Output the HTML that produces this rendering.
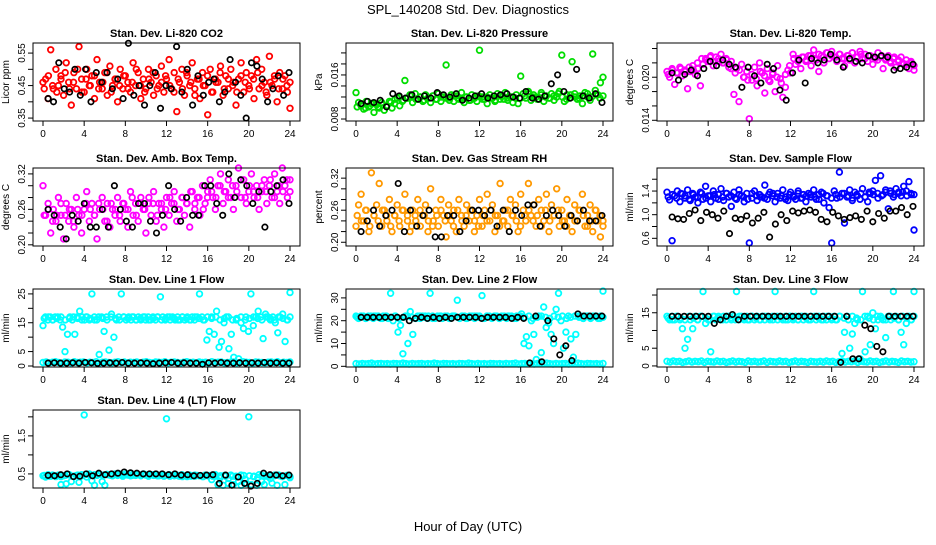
<!DOCTYPE html>
<html><head><meta charset="utf-8"><style>
body{margin:0;background:#fff}
svg text{font-family:"Liberation Sans",Arial,sans-serif}
</style></head><body>
<svg id="chart" width="936" height="540" viewBox="0 0 936 540" xmlns="http://www.w3.org/2000/svg">
<rect width="936" height="540" fill="#fff"/>
<text x="468" y="14" text-anchor="middle" font-size="13">SPL_140208  Std. Dev. Diagnostics</text>
<text x="468" y="531" text-anchor="middle" font-size="13">Hour of Day (UTC)</text>
</svg>
<script>
const xTicks=[0,4,8,12,16,20,24];
const co2=[0.46,0.47,0.41,0.56,0.44,0.50,0.45,0.48,0.42,0.52,0.46,0.39,0.49,0.44,0.57,0.47,0.43,0.50,0.45,0.48,0.41,0.53,0.46,0.44,0.49,0.42,0.51,0.45,0.47,0.40,0.50,0.44,0.48,0.46,0.43,0.52,0.45,0.49,0.41,0.47,0.44,0.50,0.46,0.42,0.48,0.45,0.51,0.43,0.47,0.53,0.44,0.49,0.37,0.46,0.50,0.42,0.48,0.45,0.52,0.44,0.47,0.41,0.49,0.45,0.36,0.50,0.43,0.47,0.46,0.51,0.42,0.48,0.44,0.50,0.46,0.39,0.47,0.52,0.43,0.49,0.45,0.48,0.41,0.53,0.44,0.50,0.46,0.42,0.54,0.45,0.47,0.40,0.49,0.44,0.48,0.43,0.38];
const co2b=[0.44,0.48,0.45,0.43,0.47,0.49,0.44,0.46,0.50,0.43,0.47,0.45,0.48,0.44,0.46,0.49,0.43,0.47,0.45,0.48,0.44,0.46,0.50,0.45,0.43,0.47,0.49,0.44,0.46,0.48,0.45,0.43,0.47,0.44,0.49,0.46,0.42,0.47,0.45,0.48,0.43,0.46,0.49,0.44,0.47,0.45,0.43,0.48,0.46,0.44,0.47,0.49,0.45,0.43,0.46,0.48,0.44,0.47,0.45,0.46];
const co2K=[0.41,0.40,0.52,0.44,0.43,0.50,0.42,0.50,0.40,0.49,0.46,0.49,0.44,0.47,0.41,0.58,0.42,0.45,0.39,0.45,0.49,0.38,0.45,0.44,0.57,0.43,0.50,0.39,0.48,0.42,0.46,0.47,0.40,0.43,0.53,0.46,0.42,0.35,0.52,0.51,0.47,0.40,0.44,0.48,0.42,0.49];
const pres=[0.0128,0.0110,0.0104,0.0098,0.0112,0.0102,0.0108,0.0092,0.0106,0.0100,0.0110,0.0096,0.0104,0.0112,0.0100,0.0108,0.0118,0.0104,0.0112,0.0150,0.0118,0.0124,0.0110,0.0126,0.0116,0.0120,0.0112,0.0124,0.0118,0.0110,0.0122,0.0116,0.0126,0.0112,0.0120,0.0178,0.0118,0.0124,0.0112,0.0122,0.0116,0.0128,0.0110,0.0120,0.0114,0.0124,0.0118,0.0112,0.0205,0.0120,0.0116,0.0108,0.0124,0.0118,0.0112,0.0126,0.0116,0.0122,0.0128,0.0114,0.0120,0.0110,0.0118,0.0108,0.0158,0.0126,0.0118,0.0130,0.0114,0.0124,0.0120,0.0116,0.0128,0.0112,0.0122,0.0118,0.0126,0.0114,0.0120,0.0130,0.0196,0.0112,0.0124,0.0118,0.0184,0.0126,0.0116,0.0122,0.0108,0.0128,0.0120,0.0114,0.0198,0.0132,0.0124,0.0146,0.0156];
const presb=[0.0102,0.0106,0.0100,0.0104,0.0108,0.0102,0.0106,0.0104,0.0110,0.0116,0.0120,0.0114,0.0118,0.0122,0.0116,0.0120,0.0114,0.0118,0.0122,0.0116,0.0120,0.0118,0.0114,0.0122,0.0118,0.0116,0.0120,0.0114,0.0118,0.0122,0.0116,0.0120,0.0118,0.0114,0.0122,0.0116,0.0118,0.0120,0.0124,0.0118,0.0122,0.0126,0.0120,0.0116,0.0124,0.0120,0.0118,0.0122,0.0126,0.0120,0.0116,0.0124,0.0120,0.0118,0.0122,0.0126,0.0120,0.0124,0.0118,0.0122];
const presK=[0.0108,0.0112,0.0110,0.0114,0.0102,0.0126,0.0122,0.0118,0.0124,0.0116,0.0122,0.0118,0.0128,0.0124,0.0120,0.0126,0.0114,0.0118,0.0122,0.0126,0.0118,0.0122,0.0124,0.0126,0.0120,0.0118,0.0130,0.0118,0.0116,0.0122,0.0144,0.0160,0.0130,0.0118,0.0170,0.0122,0.0118,0.0126,0.0110];
const ltemp=[0.0208,0.0200,0.0212,0.0190,0.0206,0.0214,0.0202,0.0210,0.0184,0.0208,0.0216,0.0204,0.0212,0.0188,0.0218,0.0226,0.0222,0.0230,0.0216,0.0228,0.0222,0.0232,0.0220,0.0226,0.0214,0.0222,0.0176,0.0212,0.0166,0.0218,0.0200,0.0208,0.0142,0.0196,0.0214,0.0188,0.0220,0.0206,0.0178,0.0212,0.0194,0.0204,0.0180,0.0216,0.0198,0.0172,0.0186,0.0210,0.0206,0.0232,0.0218,0.0226,0.0212,0.0228,0.0222,0.0230,0.0216,0.0238,0.0224,0.0208,0.0230,0.0220,0.0234,0.0226,0.0236,0.0228,0.0222,0.0232,0.0226,0.0216,0.0230,0.0224,0.0234,0.0220,0.0228,0.0236,0.0226,0.0232,0.0222,0.0230,0.0218,0.0226,0.0234,0.0228,0.0212,0.0224,0.0230,0.0220,0.0226,0.0214,0.0222,0.0228,0.0218,0.0224,0.0212,0.0220,0.0210];
const ltempb=[0.0204,0.0210,0.0206,0.0212,0.0208,0.0214,0.0210,0.0220,0.0226,0.0224,0.0228,0.0222,0.0226,0.0220,0.0224,0.0212,0.0206,0.0210,0.0200,0.0196,0.0204,0.0198,0.0208,0.0202,0.0196,0.0206,0.0200,0.0192,0.0204,0.0216,0.0226,0.0222,0.0228,0.0224,0.0230,0.0226,0.0232,0.0228,0.0234,0.0230,0.0228,0.0232,0.0226,0.0230,0.0234,0.0228,0.0232,0.0226,0.0230,0.0228,0.0224,0.0230,0.0226,0.0222,0.0228,0.0224,0.0220,0.0218,0.0222,0.0216];
const ltempK=[0.0206,0.0196,0.0204,0.0210,0.0202,0.0212,0.0222,0.0216,0.0224,0.0218,0.0214,0.0186,0.0214,0.0202,0.0192,0.0218,0.0212,0.0182,0.0168,0.0206,0.0224,0.0192,0.0226,0.0220,0.0224,0.0232,0.0224,0.0214,0.0226,0.0222,0.0220,0.0230,0.0228,0.0230,0.0228,0.0210,0.0212,0.0214,0.0218];
const amb=[0.30,0.25,0.27,0.22,0.26,0.24,0.28,0.25,0.21,0.27,0.24,0.26,0.23,0.28,0.25,0.22,0.26,0.29,0.24,0.27,0.25,0.21,0.26,0.28,0.24,0.27,0.23,0.26,0.25,0.28,0.24,0.27,0.26,0.23,0.29,0.25,0.27,0.24,0.28,0.26,0.22,0.27,0.25,0.29,0.24,0.27,0.26,0.23,0.28,0.25,0.27,0.29,0.24,0.26,0.28,0.25,0.27,0.23,0.29,0.26,0.28,0.25,0.30,0.27,0.29,0.31,0.28,0.26,0.30,0.32,0.27,0.29,0.31,0.28,0.26,0.30,0.33,0.28,0.31,0.27,0.29,0.32,0.28,0.30,0.26,0.29,0.31,0.27,0.30,0.28,0.32,0.29,0.27,0.33,0.30,0.28,0.31];
const ambb=[0.25,0.26,0.24,0.25,0.27,0.25,0.26,0.24,0.26,0.25,0.27,0.26,0.25,0.27,0.26,0.24,0.27,0.26,0.25,0.27,0.26,0.28,0.25,0.27,0.26,0.28,0.27,0.25,0.27,0.26,0.28,0.27,0.26,0.28,0.27,0.29,0.27,0.28,0.26,0.28,0.29,0.28,0.30,0.29,0.28,0.30,0.29,0.31,0.28,0.30,0.29,0.28,0.30,0.29,0.31,0.28,0.30,0.29,0.31,0.29];
const ambK=[0.26,0.25,0.23,0.21,0.25,0.24,0.27,0.23,0.23,0.26,0.23,0.30,0.26,0.24,0.23,0.27,0.27,0.24,0.22,0.25,0.30,0.26,0.24,0.28,0.25,0.25,0.30,0.30,0.27,0.25,0.32,0.28,0.31,0.30,0.27,0.29,0.23,0.29,0.30,0.31,0.27];
const rh=[0.23,0.27,0.29,0.24,0.26,0.22,0.33,0.25,0.27,0.31,0.23,0.26,0.24,0.28,0.22,0.25,0.27,0.23,0.26,0.29,0.24,0.22,0.26,0.25,0.28,0.23,0.25,0.27,0.22,0.30,0.24,0.26,0.23,0.28,0.25,0.21,0.27,0.24,0.26,0.22,0.28,0.25,0.23,0.27,0.24,0.26,0.22,0.25,0.28,0.23,0.26,0.29,0.24,0.27,0.22,0.25,0.31,0.24,0.26,0.23,0.28,0.25,0.27,0.22,0.29,0.26,0.24,0.31,0.25,0.27,0.23,0.28,0.26,0.24,0.29,0.22,0.27,0.25,0.30,0.23,0.26,0.24,0.28,0.25,0.22,0.27,0.24,0.26,0.29,0.23,0.25,0.27,0.22,0.26,0.24,0.21,0.23];
const rhb=[0.25,0.24,0.26,0.23,0.25,0.24,0.26,0.25,0.23,0.25,0.24,0.26,0.25,0.23,0.24,0.26,0.25,0.24,0.23,0.25,0.26,0.24,0.25,0.23,0.26,0.24,0.25,0.26,0.24,0.23,0.25,0.24,0.26,0.25,0.23,0.24,0.26,0.25,0.24,0.23,0.25,0.26,0.24,0.25,0.23,0.26,0.24,0.25,0.26,0.24,0.23,0.25,0.24,0.26,0.25,0.23,0.24,0.26,0.25,0.24];
const rhK=[0.22,0.24,0.26,0.23,0.25,0.26,0.31,0.22,0.26,0.23,0.25,0.26,0.21,0.21,0.25,0.25,0.22,0.24,0.26,0.26,0.25,0.26,0.23,0.26,0.22,0.26,0.25,0.27,0.27,0.23,0.25,0.26,0.25,0.23,0.25,0.24,0.26,0.24,0.24,0.25];
const sflow=[1.38,1.25,0.56,1.32,1.40,1.22,1.35,1.28,1.42,1.24,1.36,1.30,1.20,1.38,1.26,1.48,1.32,1.22,1.40,1.28,1.34,1.44,1.24,1.36,1.30,1.14,1.38,1.26,1.42,1.32,1.22,1.36,0.52,1.28,1.40,1.24,1.34,1.30,1.50,1.26,1.38,1.32,1.22,1.36,1.28,1.42,1.30,1.24,1.38,1.32,1.26,1.40,1.28,1.34,1.22,1.36,1.30,1.42,1.26,1.34,1.38,1.20,1.32,1.12,0.52,1.40,1.28,1.72,1.36,0.86,1.30,1.42,1.24,1.38,1.32,1.26,1.44,1.30,1.22,1.36,1.40,1.58,1.28,1.66,1.34,1.42,1.10,1.36,1.30,1.44,1.38,1.32,1.48,1.40,1.56,1.34,0.74];
const sflowb=[1.30,1.34,1.28,1.36,1.32,1.26,1.34,1.30,1.36,1.28,1.32,1.34,1.26,1.30,1.36,1.32,1.28,1.34,1.30,1.26,1.36,1.32,1.30,1.28,1.34,1.36,1.30,1.32,1.26,1.34,1.30,1.36,1.28,1.32,1.34,1.30,1.26,1.36,1.32,1.28,1.34,1.30,1.36,1.32,1.28,1.34,1.36,1.30,1.38,1.34,1.36,1.32,1.38,1.40,1.34,1.36,1.38,1.32,1.36,1.34];
const sflowK=[0.96,0.93,0.92,1.02,1.08,0.90,1.04,1.00,0.94,1.06,0.68,0.94,0.92,0.98,0.86,0.94,1.04,0.62,0.84,1.00,0.90,1.06,1.03,1.06,1.08,1.04,0.92,0.88,1.04,0.98,0.92,0.95,0.98,0.92,1.06,0.88,1.02,0.94,1.06,1.06,1.12,1.00,1.14];
const l1=[14,17,16,17,16,17,17,16,13.5,5,11,17,16,11,17,19,17,16,17,16,25,17,16,4,17,12,17,5.5,18,10,16,17,25,17,16,17,16,17,16,17,16,17,16,17,16,17,16,17,24,17,16,17,16,17,16,17,16,17,16,17,16,17,16,17,25,17,16,9,12,17,11,19,6.5,8.5,15,17,6,11,3,16,2.5,15,13,17,12,25,14,17,19,17,9.5,18,17,16,17,15,11.5,17,18,8.5,16,25.5];
const l1b=[16.5,17,16,16.5,17,16,16.5,17,16.5,16,17,16.5,16,17,16.5,16,17,16.5,16,17,16.5,17,16,16.5,17,16,16.5,17,16,16.5,17,16.5,16,17,16.5,16,17,16.5,16,17,16.5,17,16,16.5,17,16,16.5,17,16,16.5,17,16.5,16,17,16.5,16,17,16.5,16,17];
const l1Low=[1.2,1.4,1.1,1.3,1.5,1.2,1.0,1.4,1.3,1.1,1.5,1.2,1.3,1.4,1.1,1.3,1.2,1.5,1.0,1.3,1.4,1.2,1.1,1.3,1.5,1.2,1.4,1.1,1.3,1.2,1.4,1.0,1.3,1.5,1.2,1.1,1.4,1.3,1.2,1.5,1.1,1.3,1.4,1.2,1.0,1.3,1.5,1.2,1.3,1.1,1.4,1.2,1.3,1.0,1.5,1.2,1.3,1.4,1.1,1.2,1.3,1.4,1.1,1.2,1.5,1.3,1.2,1.0,1.4,1.3,1.2,1.1,1.3,1.4,1.2,1.5,1.1,1.3,1.2,1.4];
const l1K=[1.0,1.1,1.0,1.0,1.1,1.0,1.2,1.1,0.9,1.0,1.1,1.0,1.2,1.0,1.0,1.1,1.0,0.8,1.0,1.1,1.2,1.0,1.1,1.0,1.0,0.6,1.1,1.0,1.2,1.0,1.0,1.1,1.0,1.1,1.0,1.2,1.0,1.1,1.0,1.0];
const l2=[22,21,22,22,21,22,22,21,22,22,21,22,22,21,32,20,22,15,18,5.5,22,10,24,14,21,22,21,22,22,21,32,22,21,22,22,21,22,22,21,22,22,29,21,22,22,21,22,22,21,22,22,31,21,22,22,21,22,22,21,22,22,21,22,22,21,22,22,23,10,13,9,20,14,3,22,6,26,17,19,14,10,25,32,20,8,15,22,12,4,14,22,22,21,22,22,21,22,22,21,22,33];
const l2b=[21.5,22,21,21.5,22,21.5,21,22,21.5,22,21,21.5,22,21.5,21,22,21.5,22,21,21.5,22,21.5,21,22,21.5,22,21,21.5,22,21.5,21,22,21.5,22,21,21.5,22,21.5,21,22,21.5,22,21,21.5,22,21.5,21,22,21.5,22,21,21.5,22,21.5,21,22,21.5,22,21,21.5];
const l2Low=[1.2,1.0,1.3,1.1,1.2,1.4,1.0,1.2,1.3,1.1,1.2,1.0,1.3,1.2,1.1,1.4,1.2,1.0,1.3,1.1,1.2,1.3,1.0,1.2,1.1,1.4,1.2,1.0,1.3,1.2,1.1,1.2,1.0,1.3,1.2,1.1,1.4,1.2,1.0,1.3,1.1,1.2,1.0,1.3,1.2,1.1,1.2,1.0,1.3,1.1,1.2,1.4,1.0,1.2,1.3,1.1,1.2,1.0,1.3,1.2,1.1,1.4,1.2,1.0,1.3,1.1,1.2,1.3,1.0,1.2,1.1,1.4,1.2,1.0,1.3,1.2,1.1,1.2,1.0,1.3];
const l2K=[21.5,21.5,21.5,21.5,21.5,21.5,21.5,21.5,20,21,21.5,21,21.5,21,21.5,21,21.5,21.5,21.5,21.5,21,21.5,21.5,21.5,21.5,21,21.5,21,1.5,22,2,20,12,5,9,2.5,23,22,22,22,22];
const l3=[14,13,14,13,14,13,10.5,5,7.5,13,10.5,14,13,14,21,12,13,4,14,13,14,13,14,13,14,13,14,21,13,14,13,14,13,14,13,14,13,14,13,14,13,14,21,13,14,13,14,13,14,13,14,13,14,13,14,13,14,21,13,14,13,14,13,14,13,14,13,14,3.5,9.5,14,5,9,12,13,2,21,4,14,6,15,10.5,13,14,13,8,14,13,21,14,13,9.5,6,12,14,13,21];
const l3b=[13.5,13,14,13.5,13,14,13.5,13,14,13.5,13,14,13.5,13,14,13.5,13,14,13.5,13,14,13.5,13,14,13.5,13,14,13.5,13,14,13.5,13,14,13.5,13,14,13.5,13,14,13.5,13,14,13.5,13,14,13.5,13,14,13.5,13,14,13.5,13,14,13.5,13,14,13.5,13,14];
const l3Low=[1.3,1.1,1.4,1.2,1.3,1.0,1.2,1.4,1.1,1.3,1.2,1.4,1.0,1.3,1.2,1.1,1.4,1.2,1.3,1.0,1.2,1.4,1.1,1.3,1.2,1.0,1.4,1.2,1.3,1.1,1.2,1.4,1.0,1.3,1.2,1.1,1.4,1.2,1.3,1.0,1.2,1.4,1.1,1.3,1.2,1.0,1.3,1.2,1.1,1.3,1.1,1.4,1.2,1.3,1.0,1.2,1.4,1.1,1.3,1.2,1.4,1.0,1.3,1.2,1.1,1.4,1.2,1.3,1.0,1.2,1.4,1.1,1.3,1.2,1.0,1.4,1.2,1.3,1.1,1.2];
const l3K=[14,14,14,14,14,14,14,12,13,14,14.5,13,14,14,14,14,14,14,14,14,14,14,14,14,14,14,14,14,1,14,2,2,11.5,10.5,5.5,4,14,14,14,14,14];
const l4=[0.45,0.42,0.48,0.44,0.46,0.43,0.47,0.22,0.45,0.24,0.48,0.30,0.44,0.46,0.28,0.48,2.05,0.42,0.50,0.32,0.20,0.46,0.49,0.30,0.20,0.48,0.47,0.45,0.50,0.46,0.48,0.44,0.50,0.47,0.45,0.49,0.46,0.48,0.45,0.50,0.47,0.44,0.48,0.46,0.49,0.45,0.47,0.44,1.95,0.48,0.46,0.45,0.47,0.44,0.48,0.45,0.43,0.47,0.45,0.44,0.46,0.45,0.43,0.47,0.45,0.46,0.44,0.48,0.22,0.45,0.20,0.44,0.25,0.47,0.22,0.44,0.30,0.20,0.46,0.25,2.00,0.22,0.44,0.20,0.48,0.30,0.22,0.46,0.44,0.26,0.47,0.20,0.45,0.43,0.22,0.46,0.40];
const l4b=[0.46,0.44,0.47,0.45,0.43,0.46,0.48,0.44,0.47,0.45,0.49,0.46,0.48,0.50,0.47,0.49,0.46,0.48,0.50,0.47,0.49,0.46,0.48,0.47,0.49,0.46,0.48,0.45,0.47,0.46,0.44,0.47,0.45,0.43,0.46,0.44,0.47,0.45,0.43,0.46,0.35,0.44,0.40,0.46,0.38,0.44,0.42,0.47,0.36,0.45,0.43,0.40,0.46,0.44,0.38,0.45,0.47,0.44,0.46,0.43];
const l4K=[0.46,0.45,0.48,0.50,0.43,0.44,0.50,0.45,0.52,0.48,0.50,0.52,0.55,0.53,0.52,0.50,0.50,0.50,0.50,0.48,0.50,0.47,0.48,0.45,0.46,0.47,0.48,0.25,0.47,0.20,0.42,0.25,0.18,0.25,0.52,0.48,0.47,0.45,0.47];

const colX=[43,356,667], rowY=[43,168,289,410], BW=247+20, BH=78, PXH=247/24;
const panels=[
 {name:'li820-co2',t:'Stan. Dev. Li-820 CO2',yl:'Licor ppm',c:0,r:0,lo:0.341,hi:0.581,ticks:[0.35,0.40,0.45,0.50,0.55],labs:[0.35,0.45,0.55],col:'#ff0000',s:[co2,co2b],k:co2K},
 {name:'li820-pressure',t:'Stan. Dev. Li-820 Pressure',yl:'kPa',c:1,r:0,lo:0.00764,hi:0.0218,ticks:[0.008,0.010,0.012,0.014,0.016,0.018,0.020],labs:[0.008,0.016],col:'#00dd00',s:[pres,presb],k:presK,dec:3},
 {name:'li820-temp',t:'Stan. Dev. Li-820 Temp.',yl:'degrees C',c:2,r:0,lo:0.0139,hi:0.02477,ticks:[0.014,0.016,0.018,0.020,0.022,0.024],labs:[0.014,0.020],col:'#ff00ff',s:[ltemp,ltempb],k:ltempK,dec:3},
 {name:'amb-box-temp',t:'Stan. Dev. Amb. Box Temp.',yl:'degrees C',c:0,r:1,lo:0.198,hi:0.33,ticks:[0.20,0.22,0.24,0.26,0.28,0.30,0.32],labs:[0.20,0.26,0.32],col:'#ff00ff',s:[amb,ambb],k:ambK,dec:2},
 {name:'gas-stream-rh',t:'Stan. Dev. Gas Stream RH',yl:'percent',c:1,r:1,lo:0.193,hi:0.339,ticks:[0.20,0.22,0.24,0.26,0.28,0.30,0.32],labs:[0.20,0.26,0.32],col:'#ff9900',s:[rh,rhb],k:rhK,dec:2},
 {name:'sample-flow',t:'Stan. Dev. Sample Flow',yl:'ml/min',c:2,r:1,lo:0.47,hi:1.79,ticks:[0.6,0.8,1.0,1.2,1.4,1.6],labs:[0.6,1.0,1.4],col:'#0000ff',s:[sflow,sflowb],k:sflowK,dec:1},
 {name:'line1-flow',t:'Stan. Dev. Line 1 Flow',yl:'ml/min',c:0,r:2,lo:-0.35,hi:26.7,ticks:[0,5,10,15,20,25],labs:[0,5,15,25],col:'#00ffff',s:[l1,l1b,l1Low],k:l1K,dec:0},
 {name:'line2-flow',t:'Stan. Dev. Line 2 Flow',yl:'ml/min',c:1,r:2,lo:-0.3,hi:33.9,ticks:[0,5,10,15,20,25,30],labs:[0,10,20,30],col:'#00ffff',s:[l2,l2b,l2Low],k:l2K,dec:0},
 {name:'line3-flow',t:'Stan. Dev. Line 3 Flow',yl:'ml/min',c:2,r:2,lo:-0.3,hi:21.7,ticks:[0,5,10,15,20],labs:[0,5,15],col:'#00ffff',s:[l3,l3b,l3Low],k:l3K,dec:0},
 {name:'line4-flow',t:'Stan. Dev. Line 4 (LT) Flow',yl:'ml/min',c:0,r:3,lo:0.13,hi:2.18,ticks:[0.5,1.0,1.5,2.0],labs:[0.5,1.5],col:'#00ffff',s:[l4,l4b],k:l4K,dec:1}
];
const NS='http://www.w3.org/2000/svg', svg=document.getElementById('chart');
function mk(tag,attrs,parent){const e=document.createElementNS(NS,tag);for(const a in attrs)e.setAttribute(a,attrs[a]);(parent||svg).appendChild(e);return e;}
panels.forEach(p=>{
  const x0=colX[p.c], bx=x0-10, by=rowY[p.r];
  const g=mk('g',{});
  
  
  const xs=h=>x0+h*PXH;
  const ys=v=>by+BH-(v-p.lo)/(p.hi-p.lo)*BH;
  const t=mk('text',{x:bx+BW/2,y:by-6,'text-anchor':'middle','font-size':'11','font-weight':'bold'},g);t.textContent=p.t;
  
  
  const yl=mk('text',{x:0,y:0,transform:`translate(${bx-24},${by+BH/2}) rotate(-90)`,'text-anchor':'middle','font-size':'10'},g);yl.textContent=p.yl;
  
  
  p.s.forEach((arr,si)=>{
    const off=si===1?0.12:0;
    arr.forEach((v,i)=>{
      const h=Math.min(24,off+i*24/(arr.length-1));
      const c=mk('circle',{cx:xs(h).toFixed(1),cy:ys(v).toFixed(1),r:2.8,fill:'none',stroke:p.col,'stroke-width':1.8},g);
      
      
    });
  });
  p.k.forEach((v,i)=>{
    const h=0.5+i*23.4/(p.k.length-1);
    const c=mk('circle',{cx:xs(h).toFixed(1),cy:ys(v).toFixed(1),r:2.7,fill:'none',stroke:'#000','stroke-width':1.7},g);
    
    
  });
  const box=mk('rect',{x:bx,y:by,width:BW,height:BH,fill:'none',stroke:'#000','stroke-width':1},g);
  
  
  xTicks.forEach(h=>{
    mk('line',{x1:xs(h),x2:xs(h),y1:by+BH,y2:by+BH+5,stroke:'#000'},g);
    const tl=mk('text',{x:xs(h),y:by+BH+16,'text-anchor':'middle','font-size':'10'},g);tl.textContent=h;
    
    
  });
  p.ticks.forEach(v=>{mk('line',{x1:bx-5,x2:bx,y1:ys(v),y2:ys(v),stroke:'#000'},g);});
  p.labs.forEach(v=>{
    const d=p.dec!==undefined?p.dec:2;
    const tl=mk('text',{x:0,y:0,transform:`translate(${bx-8},${ys(v)}) rotate(-90)`,'text-anchor':'middle','font-size':'10'},g);
    tl.textContent=v.toFixed(d);
    
    
  });
});
</script>
</body></html>
